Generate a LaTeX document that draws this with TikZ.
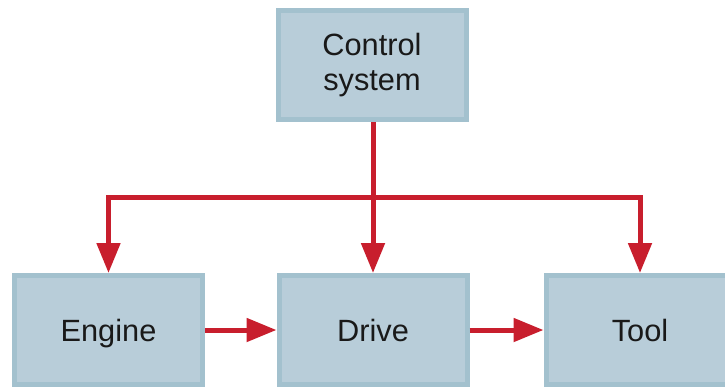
\documentclass[tikz,border=0pt]{standalone}
\usepackage{fontspec}
\setmainfont{Liberation Sans}
\usepackage{xcolor}
\usetikzlibrary{arrows.meta}

\definecolor{boxfill}{RGB}{184,205,217}
\definecolor{boxedge}{RGB}{163,193,206}
\definecolor{flowred}{RGB}{200,30,45}

\begin{document}
\begin{tikzpicture}[
    block/.style={draw=boxedge, fill=boxfill, line width=0.1cm,
      minimum width=3.76cm, minimum height=2.18cm, align=center,
      text=black!90, font=\fontsize{17.5}{20}\selectfont},
    rowblock/.style={block, text depth=0pt},
    flow/.style={draw=flowred, line width=0.1cm},
    flowarrow/.style={flow, -{Triangle[length=0.6cm, width=0.46cm]}}
  ]
  \useasboundingbox (0,0) rectangle (14.5,-7.76);
  % top box
  \node[block] (ctrl) at (7.44,-1.3) {Control\\system};
  % bottom row
  \node[rowblock] (engine) at (2.17,-6.6) {Engine};
  \node[rowblock] (drive) at (7.46,-6.6) {Drive};
  \node[rowblock] (tool) at (12.8,-6.6) {Tool};
  % distribution line
  \coordinate (bus) at (7.46,-3.94);
  \draw[flow] (ctrl.south -| bus) -- (bus);
  \draw[flowarrow] (bus) -| (engine.north);
  \draw[flowarrow] (bus) -- (drive.north);
  \draw[flowarrow] (bus) -| (tool.north);
  % chain along the bottom
  \draw[flowarrow] (engine.east) -- (drive.west);
  \draw[flowarrow] (drive.east) -- (tool.west);
\end{tikzpicture}
\end{document}
